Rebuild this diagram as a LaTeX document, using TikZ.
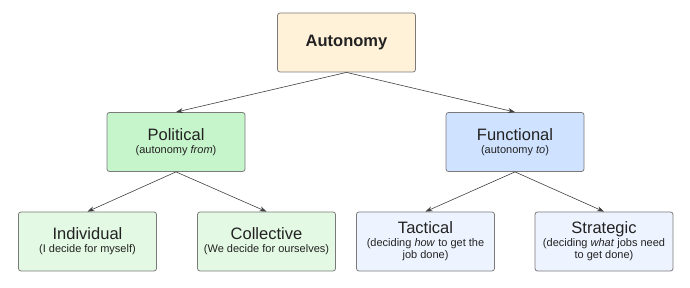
\documentclass[tikz,border=0pt]{standalone}
\usepackage{fontspec}
\setmainfont{Liberation Sans}
\usetikzlibrary{arrows.meta}
\definecolor{cream}{HTML}{FFF2D9}
\definecolor{pgreen}{HTML}{C7F5CB}
\definecolor{pblue}{HTML}{CFE2FF}
\definecolor{lgreen}{HTML}{E3F9E3}
\definecolor{lblue}{HTML}{EEF4FF}
\definecolor{edge}{HTML}{7A7A7A}
\definecolor{txt}{HTML}{222222}
\tikzset{
  box/.style={draw=edge, line width=0.8pt, rounded corners=2.5pt, minimum width=138pt, minimum height=59pt, align=center, text=txt, inner sep=0pt},
  conn/.style={draw=black!75, line width=0.6pt, -{Stealth[length=7pt,width=5pt]}}
}
\newcommand{\ttl}[1]{{\fontsize{16.5}{19}\selectfont #1}}
\newcommand{\sbt}[1]{{\fontsize{11}{14}\selectfont #1}}
\begin{document}
\begin{tikzpicture}[x=1pt,y=-1pt]
\useasboundingbox (0,0) rectangle (690,288);
\node[box, fill=cream] (aut) at (346.5,42.5) {\fontsize{16.5}{19}\selectfont\bfseries Autonomy};
\node[box, fill=pgreen] (pol) at (176,142) {\ttl{Political}\\[1pt]\sbt{(autonomy \emph{from})}};
\node[box, fill=pblue] (fun) at (515,142) {\ttl{Functional}\\[1pt]\sbt{(autonomy \emph{to})}};
\node[box, fill=lgreen] (ind) at (87.5,241.5) {\ttl{Individual}\\[1pt]\sbt{(I decide for myself)}};
\node[box, fill=lgreen] (col) at (266.5,241.5) {\ttl{Collective}\\[1pt]\sbt{(We decide for ourselves)}};
\node[box, fill=lblue] (tac) at (425.5,241.5) {\ttl{Tactical}\\[1pt]\sbt{(deciding \emph{how} to get the}\\\sbt{job done)}};
\node[box, fill=lblue] (str) at (604,241.5) {\ttl{Strategic}\\[1pt]\sbt{(deciding \emph{what} jobs need}\\\sbt{to get done)}};
\draw[conn] (aut.south) -- (pol.north);
\draw[conn] (aut.south) -- (fun.north);
\draw[conn] (pol.south) -- (ind.north);
\draw[conn] (pol.south) -- (col.north);
\draw[conn] (fun.south) -- (tac.north);
\draw[conn] (fun.south) -- (str.north);
\end{tikzpicture}
\end{document}
